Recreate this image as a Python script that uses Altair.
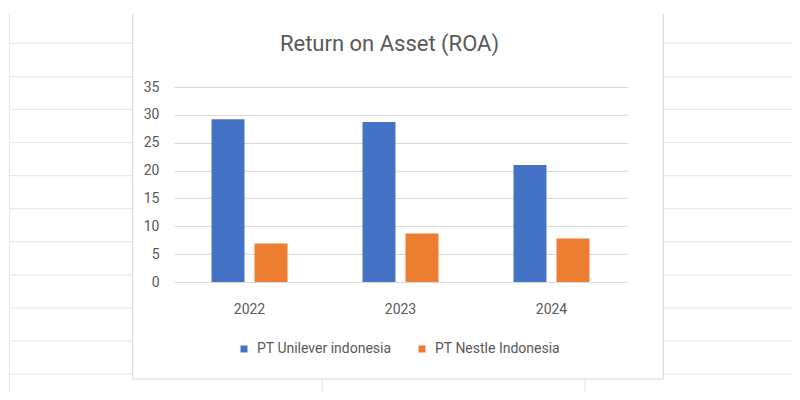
import altair as alt
import pandas as pd

# ---- data ----
years = ["2022", "2023", "2024"]
series = ["PT Unilever indonesia", "PT Nestle Indonesia"]
unilever = [29.2, 28.7, 21.0]
nestle = [6.9, 8.7, 7.8]
colors = ["#4472C4", "#ED7D31"]

rows = []
for i, y in enumerate(years):
    rows.append({"year": y, "series": series[0], "value": unilever[i]})
    rows.append({"year": y, "series": series[1], "value": nestle[i]})
df = pd.DataFrame(rows)

# ---- page geometry (decoration: spreadsheet grid behind the chart object) ----
PLOT_W, PLOT_H = 453, 195
X0, Y0 = 174, 87  # page position of the plot area origin
BOX_L, BOX_R, BOX_T, BOX_B = 132.7, 663.3, 14, 379
sheet_row_y = [43.3, 76.7, 109.3, 142.7, 175.7, 208.7, 241.7, 275, 308, 341, 374]
SHEET_LEFT = 9.3
sheet_col_x = [322, 585]

segs = []
for yy in sheet_row_y:
    segs.append({"x1": SHEET_LEFT, "x2": BOX_L, "y1": yy, "y2": yy, "c": "#e4e4e4"})
    segs.append({"x1": BOX_R, "x2": 800, "y1": yy, "y2": yy, "c": "#e4e4e4"})
segs.append({"x1": SHEET_LEFT, "x2": SHEET_LEFT, "y1": BOX_T, "y2": 400, "c": "#e4e4e4"})
for xx in sheet_col_x:
    segs.append({"x1": xx, "x2": xx, "y1": BOX_B, "y2": 400, "c": "#e4e4e4"})
segs.append({"x1": BOX_L, "x2": BOX_L, "y1": BOX_T, "y2": BOX_B, "c": "#d4d4d4"})
segs.append({"x1": BOX_R, "x2": BOX_R, "y1": BOX_T, "y2": BOX_B, "c": "#d4d4d4"})
segs.append({"x1": BOX_L, "x2": BOX_R, "y1": BOX_B, "y2": BOX_B, "c": "#d4d4d4"})
seg_df = pd.DataFrame(segs)
for k in ("x1", "x2"):
    seg_df[k] = seg_df[k] - X0
for k in ("y1", "y2"):
    seg_df[k] = seg_df[k] - Y0

sheet = alt.Chart(seg_df).mark_rule(strokeWidth=1).encode(
    x=alt.X("x1:Q", scale=None),
    x2="x2:Q",
    y=alt.Y("y1:Q", scale=None),
    y2="y2:Q",
    color=alt.Color("c:N", scale=None),
)

FONT = "Roboto"
TXT = "#595959"

bars = alt.Chart(df).mark_bar().encode(
    x=alt.X(
        "year:N",
        sort=years,
        scale=alt.Scale(paddingInner=0, paddingOuter=0),
        axis=alt.Axis(
            title=None, labelAngle=0, domain=False, ticks=False, tickSize=0,
            grid=False, labelPadding=20, labelFontSize=14, labelColor=TXT,
            labelFont=FONT,
        ),
    ),
    xOffset=alt.XOffset(
        "series:N", sort=series,
        scale=alt.Scale(paddingInner=0.2326, paddingOuter=0.872),
    ),
    y=alt.Y(
        "value:Q",
        scale=alt.Scale(domain=[0, 35], nice=False),
        axis=alt.Axis(
            title=None, values=[0, 5, 10, 15, 20, 25, 30, 35], domain=False,
            ticks=False, tickSize=0, labelPadding=15, labelFontSize=14,
            labelColor=TXT, labelFont=FONT, gridColor="#d9d9d9", gridWidth=1,
        ),
    ),
    color=alt.Color(
        "series:N", sort=series,
        scale=alt.Scale(domain=series, range=colors),
        legend=alt.Legend(
            title=None, orient="none", direction="horizontal",
            legendX=63, legendY=255, symbolType="square", symbolSize=49,
            symbolStrokeWidth=0, labelFontSize=14, labelColor=TXT,
            labelFont=FONT, columnPadding=23, labelOffset=6, padding=0,
        ),
    ),
)

chart = alt.layer(sheet, bars).properties(
    width=PLOT_W,
    height=PLOT_H,
    background="white",
    autosize=alt.AutoSizeParams(type="none"),
    padding={"left": 166, "top": 79, "right": 165, "bottom": 110},
    title=alt.TitleParams(
        text="Return on Asset (ROA)", fontSize=22, font=FONT, color=TXT,
        fontWeight="normal", anchor="middle", dx=-11, offset=0, dy=42,
    ),
).configure_view(stroke=None)

chart.save("out.html", embed_options={"renderer": "svg", "actions": False})
